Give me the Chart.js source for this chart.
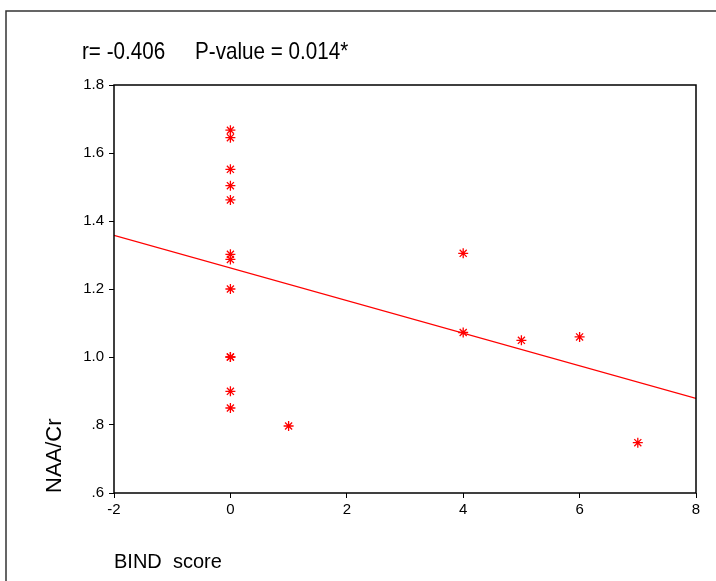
<!DOCTYPE html>
<html>
<head>
<meta charset="utf-8">
<script src="https://cdn.jsdelivr.net/npm/chart.js@4/dist/chart.umd.min.js"></script>
<style>
  html, body { margin: 0; padding: 0; background: #fff; }
  #wrap { width: 716px; height: 581px; position: relative; }
</style>
</head>
<body>
<div id="wrap"><canvas id="chart" width="716" height="581"></canvas></div>
<script>
// BIND score vs NAA/Cr
const bindScore = [0, 0, 0, 0, 0, 0, 0, 0, 0, 0, 0, 0, 1, 4, 4, 5, 6, 7];
const naaCr     = [1.667, 1.645, 1.552, 1.504, 1.462, 1.302, 1.287, 1.200, 1.000, 1.000, 0.899, 0.850, 0.797, 1.305, 1.072, 1.049, 1.059, 0.748];

// fitted line end points
const fitX = [-2, 8];
const fitY = [1.358, 0.878];

const xTicks = [-2, 0, 2, 4, 6, 8];
const xTickLabels = ['-2', '0', '2', '4', '6', '8'];
const yTicks = [0.6, 0.8, 1.0, 1.2, 1.4, 1.6, 1.8];
const yTickLabels = ['.6', '.8', '1.0', '1.2', '1.4', '1.6', '1.8'];

const titleLeft = 'r= -0.406';
const titleRight = 'P-value = 0.014*';

const RED = '#ff0000';
const FONT = "'Liberation Sans', Arial, sans-serif";

const decor = {
  id: 'decor',
  beforeDraw(chart) {
    const ctx = chart.ctx;
    ctx.save();
    // outer frame (top + left only visible)
    ctx.strokeStyle = '#333';
    ctx.lineWidth = 1.5;
    ctx.beginPath();
    ctx.moveTo(6, 581);
    ctx.lineTo(6, 11);
    ctx.lineTo(716, 11);
    ctx.stroke();
    // title, narrow face
    ctx.fillStyle = '#000';
    ctx.font = '24px ' + FONT;
    ctx.textBaseline = 'alphabetic';
    ctx.textAlign = 'left';
    ctx.translate(82, 59);
    ctx.scale(0.86, 1);
    ctx.fillText(titleLeft, 0, 0);
    ctx.fillText(titleRight, (195 - 82) / 0.86, 0);
    ctx.restore();
  },
  afterDatasetsDraw(chart) {
    const {ctx, chartArea: a} = chart;
    ctx.save();
    ctx.strokeStyle = '#000';
    ctx.lineWidth = 1.5;
    ctx.strokeRect(a.left, a.top, a.right - a.left, a.bottom - a.top);
    ctx.restore();
  }
};

new Chart(document.getElementById('chart'), {
  type: 'scatter',
  data: {
    datasets: [
      {
        label: 'NAA/Cr',
        data: bindScore.map((x, i) => ({x: x, y: naaCr[i]})),
        pointStyle: 'star',
        pointRadius: 5,
        borderColor: RED,
        backgroundColor: RED,
        borderWidth: 1.3
      },
      {
        label: 'fit',
        type: 'line',
        data: fitX.map((x, i) => ({x: x, y: fitY[i]})),
        borderColor: RED,
        borderWidth: 1.3,
        pointRadius: 0,
        fill: false
      }
    ]
  },
  options: {
    responsive: false,
    animation: false,
    layout: { padding: { top: 85, right: 20, left: 0, bottom: 0 } },
    plugins: {
      legend: { display: false },
      tooltip: { enabled: false },
      title: { display: false }
    },
    scales: {
      x: {
        type: 'linear',
        min: -2,
        max: 8,
        afterBuildTicks: s => { s.ticks = xTicks.map(v => ({value: v})); },
        afterFit: s => { s.height = 88; },
        ticks: {
          color: '#000',
          padding: 3,
          font: { family: FONT, size: 15 },
          callback: v => xTickLabels[xTicks.indexOf(v)]
        },
        grid: { drawOnChartArea: false, drawTicks: true, tickLength: 5, color: '#000' },
        border: { display: false },
        title: {
          display: true,
          text: 'BIND  score',
          align: 'start',
          color: '#000',
          font: { family: FONT, size: 20 },
          padding: { top: 0, bottom: 7 }
        }
      },
      y: {
        type: 'linear',
        min: 0.6,
        max: 1.8,
        afterBuildTicks: s => { s.ticks = yTicks.map(v => ({value: v})); },
        afterFit: s => { s.width = 114; },
        ticks: {
          color: '#000',
          padding: 5,
          font: { family: FONT, size: 15 },
          callback: v => yTickLabels[yTicks.findIndex(t => Math.abs(t - v) < 1e-6)]
        },
        grid: { drawOnChartArea: false, drawTicks: true, tickLength: 5, color: '#000' },
        border: { display: false },
        title: {
          display: true,
          text: 'NAA/Cr',
          align: 'start',
          color: '#000',
          font: { family: FONT, size: 22 },
          padding: { top: 42, bottom: 0 }
        }
      }
    }
  },
  plugins: [decor]
});
</script>
</body>
</html>
